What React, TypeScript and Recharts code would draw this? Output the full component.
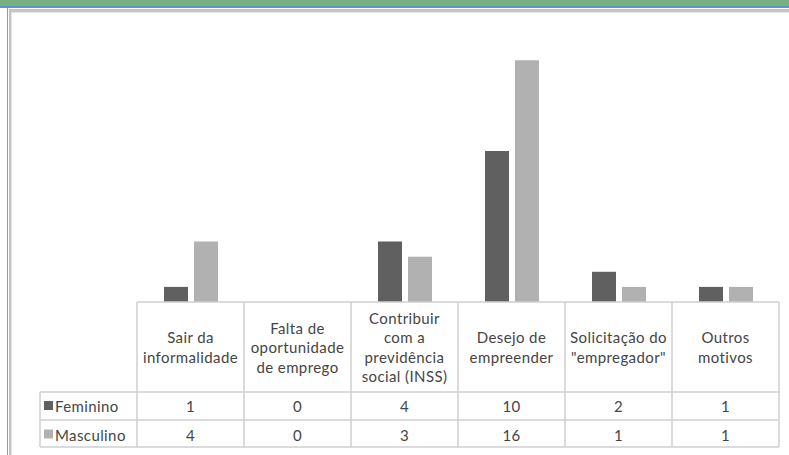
import React from "react"
import { BarChart, Bar, XAxis, YAxis } from "recharts"

const categories = [
  "Sair da informalidade",
  "Falta de oportunidade de emprego",
  "Contribuir com a previdência social (INSS)",
  "Desejo de empreender",
  "Solicitação do \"empregador\"",
  "Outros motivos",
]
// how each header cell breaks into lines
const headerLines = [
  ["Sair da", "informalidade"],
  ["Falta de", "oportunidade", "de emprego"],
  ["Contribuir", "com a", "previdência", "social (INSS)"],
  ["Desejo de", "empreender"],
  ["Solicitação do", "\"empregador\""],
  ["Outros", "motivos"],
]
const feminino = [1, 0, 4, 10, 2, 1]
const masculino = [4, 0, 3, 16, 1, 1]

const data = categories.map((name, i) => ({
  name,
  feminino: feminino[i],
  masculino: masculino[i],
}))

const W = 789
const H = 455
const PLOT_LEFT = 137
const PLOT_RIGHT = 779
const BASE = 302
const ROW1 = 392
const ROW2 = 420
const ROW3 = 447
const LEGEND_LEFT = 40
const COL_W = (PLOT_RIGHT - PLOT_LEFT) / categories.length

const FEM = "#606060"
const MASC = "#b1b1b1"
const GRID = "#cfcfcf"
const TEXT = "#454545"
const FONT = "Lato, 'Open Sans', sans-serif"

function TableColumn(props: any) {
  const { x, payload } = props
  const i = payload.index
  const left = x - COL_W / 2
  const right = x + COL_W / 2
  const lines = headerLines[i]
  const lh = 19.5
  const midY = (BASE + ROW1) / 2
  const startY = midY - ((lines.length - 1) * lh) / 2
  return (
    <g fontFamily={FONT} fontSize={15} letterSpacing={0.4} fill={TEXT}>
      {i === 0 && (
        <g>
          <line x1={left} y1={BASE} x2={left} y2={ROW3} stroke={GRID} strokeWidth={1.5} />
          <line x1={LEGEND_LEFT} y1={ROW1} x2={LEGEND_LEFT} y2={ROW3} stroke={GRID} strokeWidth={1.5} />
          {[ROW1, ROW2, ROW3].map((yy) => (
            <line key={yy} x1={LEGEND_LEFT} y1={yy} x2={left} y2={yy} stroke={GRID} strokeWidth={1.5} />
          ))}
          <rect x={44} y={(ROW1 + ROW2) / 2 - 5} width={9} height={9} fill={FEM} />
          <text x={55} y={(ROW1 + ROW2) / 2} dominantBaseline="central">Feminino</text>
          <rect x={44} y={(ROW2 + ROW3) / 2 - 4} width={9} height={9} fill={MASC} />
          <text x={55} y={(ROW2 + ROW3) / 2 + 1} dominantBaseline="central">Masculino</text>
        </g>
      )}
      <line x1={right} y1={BASE} x2={right} y2={ROW3} stroke={GRID} strokeWidth={1.5} />
      {[ROW1, ROW2, ROW3].map((yy) => (
        <line key={yy} x1={left} y1={yy} x2={right} y2={yy} stroke={GRID} strokeWidth={1.5} />
      ))}
      {lines.map((t, k) => (
        <text key={k} x={x} y={startY + k * lh} textAnchor="middle" dominantBaseline="central">
          {t}
        </text>
      ))}
      <text x={x} y={(ROW1 + ROW2) / 2} textAnchor="middle" dominantBaseline="central">
        {feminino[i]}
      </text>
      <text x={x} y={(ROW2 + ROW3) / 2 + 1} textAnchor="middle" dominantBaseline="central">
        {masculino[i]}
      </text>
    </g>
  )
}

export default function App() {
  return (
    <div style={{ position: "relative", width: W, height: H, background: "#fff", overflow: "hidden" }}>
      <style>{"html,body{margin:0;padding:0;background:#fff;overflow:hidden}"}</style>
      {/* page frame around the chart */}
      <div style={{ position: "absolute", left: 0, top: 0, width: W, height: 6, background: "#7aaf82" }} />
      <div style={{ position: "absolute", left: 0, top: 6, width: W, height: 2, background: "#5f93d8" }} />
      <div style={{ position: "absolute", left: 7, top: 8, width: 1, height: H - 8, background: "#7aaf82" }} />
      <div style={{ position: "absolute", left: 9, top: 9, width: W - 9, height: 3, background: "#c4c4c4" }} />
      <div style={{ position: "absolute", left: 9, top: 12, width: W - 9, height: 1, background: "#e4e4e4" }} />
      <div style={{ position: "absolute", left: 9, top: 9, width: 2, height: H - 9, background: "#c4c4c4" }} />
      <div style={{ position: "absolute", left: 11, top: 12, width: 1, height: H - 12, background: "#e4e4e4" }} />
      <div style={{ position: "absolute", left: 0, top: 0 }}>
        <BarChart
          width={W}
          height={H}
          data={data}
          margin={{ top: 30, right: W - PLOT_RIGHT, left: PLOT_LEFT, bottom: 0 }}
          barSize={24}
          barGap={6}
          accessibilityLayer={false}
          style={{ outline: "none" }}
        >
          <YAxis hide domain={[0, 18]} />
          <XAxis
            dataKey="name"
            height={H - BASE}
            axisLine={{ stroke: GRID, strokeWidth: 1.5 }}
            tickLine={false}
            interval={0}
            tick={<TableColumn />}
          />
          <Bar dataKey="feminino" fill={FEM} isAnimationActive={false} />
          <Bar dataKey="masculino" fill={MASC} isAnimationActive={false} />
        </BarChart>
      </div>
    </div>
  )
}
